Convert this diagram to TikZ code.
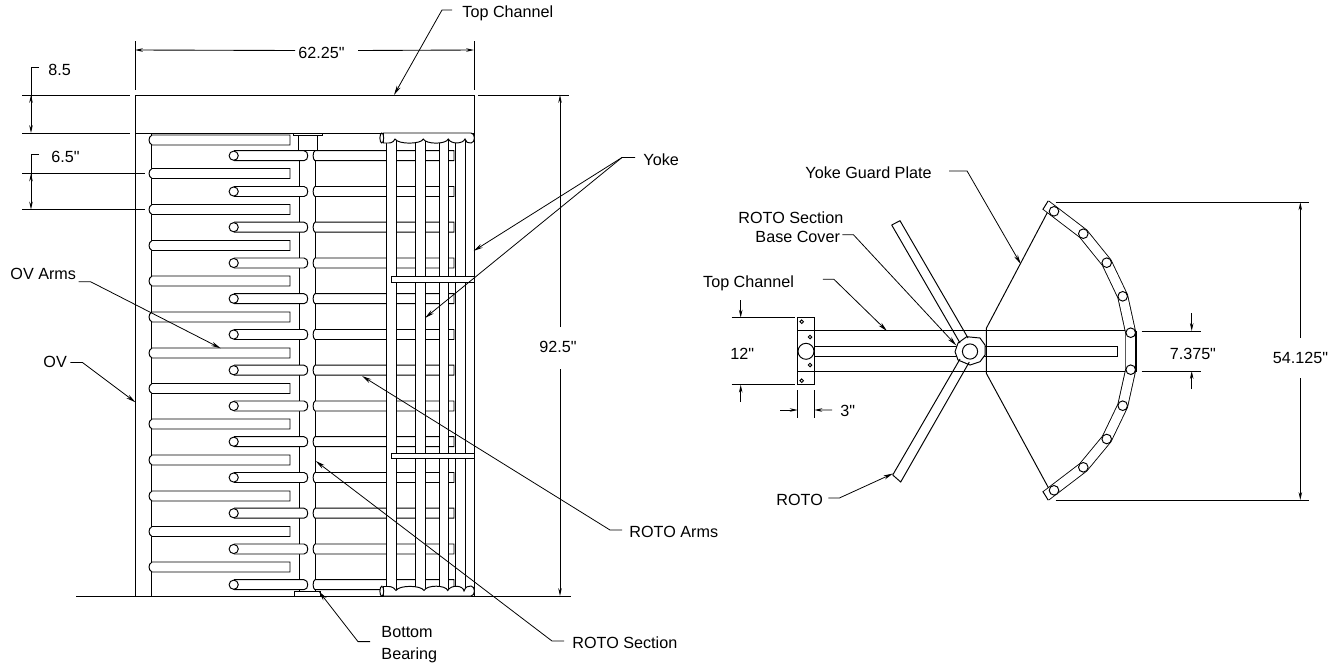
\documentclass[tikz,border=0pt]{standalone}
\usepackage{fontspec}
\newfontfamily\drawingfont{Liberation Sans}
\usetikzlibrary{
    arrows.meta,
    calc
}

\begin{document}
\begin{tikzpicture}[
        x=0.02cm, y=-0.02cm, line width=0.55pt,
        callout/.style={inner sep=0pt, anchor=west, text height=9pt, text depth=0pt, font=\drawingfont\fontsize{9.2}{11}\selectfont},
        leader/.style={-{Stealth[length=5.5pt,width=2.4pt]}, line width=0.45pt},
        dimarrow/.style={-{Stealth[length=4.5pt,width=2pt]}, line width=0.5pt},
        extline/.style={line width=0.5pt},
        part/.style={draw, fill=white}
    ]
        \useasboundingbox (0,0) rectangle (1344,663);

        % Elevation frame
        \draw[part] (135,95) rectangle (474,133);
        \draw (135,133) -- (135,596);
        \draw (474,133) -- (474,596);
        \draw (151,133) -- (151,596);
        \draw (299,150) -- (299,591);
        \draw (315,150) -- (315,591);

        % Extension lines
        \draw[extline] (22,95) -- (130,95);
        \draw[extline] (478,95) -- (569,95);
        \draw[extline] (22,133) -- (130,133);
        \draw[extline] (22,173.5) -- (145,173.5);
        \draw[extline] (22,209.5) -- (145,209.5);
        \draw[extline] (135,41) -- (135,90);
        \draw[extline] (474,41) -- (474,90);
        \draw (76,596) -- (571,596);

        % OV arms
        \foreach \ya in {135,168.5,204.5,240.5,276,312,348,383.5,419,455,491,526.5,562} {
            \draw[part] (152,\ya) .. controls (148,\ya+2) and (148,\ya+8) .. (152,\ya+10) -- (290,\ya+10) -- (290,\ya) -- cycle;
        }

        % ROTO arms
        \foreach \yc in {155.7,191.5,227.2,263,298.7,334.5,370.2,406,441.7,477.5,513.2,549,584.7} {
            \draw[part] (234,\yc-5) -- (304,\yc-5) .. controls (309,\yc-5) and (309,\yc+5) .. (304,\yc+5) -- (234,\yc+5);
            \draw[part] (233.7,\yc) circle (4.6);
            \draw[part] (315,\yc-5) .. controls (312.5,\yc-4) and (312.5,\yc+4) .. (315,\yc+5) -- (454,\yc+5) -- (454,\yc-5) -- cycle;
        }

        % Yoke
        \draw[part] (386.7,139) rectangle (396.7,591);
        \draw[part] (415.7,139) rectangle (425.3,591);
        \draw[part] (439,139) rectangle (448.7,591);
        \draw[part] (455,139) rectangle (465,591);
        \draw[part] (383.5,133) -- (471,133) .. controls (475.5,133) and (475.5,143) .. (471,143)
            .. controls (468,143.5) and (465.5,142) .. (465,139)
            .. controls (463,144) and (451,144.5) .. (448.3,139)
            .. controls (446,144.5) and (426,144.5) .. (423.3,139)
            .. controls (421,144.5) and (398,144.5) .. (395,139)
            .. controls (393,143.5) and (389,143) .. (387,143) -- (383.5,143) -- cycle;
        \draw[part] (381.8,138) ellipse [x radius=1.9, y radius=5];
        \draw[part] (383.5,596) -- (471,596) .. controls (475.5,596) and (475.5,586) .. (471,586)
            .. controls (468,585.5) and (465.5,587) .. (464,591)
            .. controls (463,585) and (451,584.5) .. (447.7,590.5)
            .. controls (446,585) and (427,584.5) .. (424,590.5)
            .. controls (421,585) and (399,585) .. (396,590.5)
            .. controls (393,586) and (389,586.5) .. (387,586.5) -- (383.5,586.5) -- cycle;
        \draw[part] (381.8,591.2) ellipse [x radius=1.9, y radius=5];
        \draw[part] (391.7,276.7) rectangle (474,282);
        \draw[part] (391.7,453.2) rectangle (474,458.2);

        % Bearings
        \draw[part] (298,135) rectangle (317,150);
        \draw[part] (293,133) rectangle (322.7,135);
        \draw[part] (294,591) rectangle (320,596);

        % Elevation dimensions
        \node[callout] (eightfive) at (48,67.5) {8.5};
        \node[callout] (sixfive) at (51,154.5) {6.5"};
        \node[callout] (widthdim) at (298,50.5) {62.25"};
        \node[callout, anchor=center] (heightdim) at (558,344.6) {92.5"};
        \coordinate (eighttop) at (31,95);
        \coordinate (eightbot) at (31,133);
        \coordinate (sixtop) at (31,173.5);
        \coordinate (sixbot) at (31,209.5);
        \coordinate (eightmid) at (31,114);
        \coordinate (sixmid) at (31,191.5);
        \coordinate (widthl) at (135,50);
        \coordinate (widthr) at (474,50);
        \coordinate (heightt) at (560,95);
        \coordinate (heightb) at (560,596);
        \draw[extline] ([shift={(-9,0)}]eightfive.west) -| (eightmid);
        \draw[dimarrow] (eightmid) -- (eighttop);
        \draw[dimarrow] (eightmid) -- (eightbot);
        \draw[extline] ([shift={(-12,0)}]sixfive.west) -| (sixmid);
        \draw[dimarrow] (sixmid) -- (sixtop);
        \draw[dimarrow] (sixmid) -- (sixbot);
        \draw[dimarrow] ([shift={(-3,0)}]widthdim.west) -- (widthl);
        \draw[dimarrow] ([shift={(13,0)}]widthdim.east) -- (widthr);
        \draw[dimarrow] ([shift={(2,-9)}]heightdim.north) -- (heightt);
        \draw[dimarrow] ([shift={(2,16.5)}]heightdim.south) -- (heightb);

        % Elevation callouts
        \node[callout] (topchannel) at (462,10) {Top Channel};
        \node[callout] (yoke) at (643,157.5) {Yoke};
        \node[callout] (rotoarms) at (629,530) {ROTO Arms};
        \node[callout] (rotosection) at (572,641) {ROTO Section};
        \node[callout, text height=, text depth=, font=\drawingfont\fontsize{9.2}{12.2}\selectfont, align=left] (bearing) at (381,644.4) {Bottom\\Bearing};
        \node[callout] (ovarms) at (10,271.4) {OV Arms};
        \node[callout] (ov) at (43,359.4) {OV};
        \coordinate (topchanneltip) at (394,95);
        \coordinate (yoketipa) at (473.5,251);
        \coordinate (yoketipb) at (425,318);
        \coordinate (rotoarmstip) at (362,376);
        \coordinate (rotosectiontip) at (315.7,461);
        \coordinate (bearingtip) at (319,591.5);
        \coordinate (ovarmstip) at (220.7,348.3);
        \coordinate (ovtip) at (135.5,402.3);
        \draw[leader] ([shift={(-10,0)}]topchannel.west) -- ++(-10,0) -- (topchanneltip);
        \draw[leader] ([shift={(-8,0)}]yoke.west) -- ++(-13,0) coordinate (yokeelbow) -- (yoketipa);
        \draw[leader] (yokeelbow) -- (yoketipb);
        \draw[leader] ([shift={(-7,0)}]rotoarms.west) -- ++(-12,0) -- (rotoarmstip);
        \draw[leader] ([shift={(-8,0)}]rotosection.west) -- ++(-12,0) -- (rotosectiontip);
        \draw[leader] ([shift={(-11,-2.8)}]bearing.west) -- ++(-12,0) -- (bearingtip);
        \draw[leader] ([shift={(2,10.3)}]ovarms.east) -- ++(12,0) -- (ovarmstip);
        \draw[leader] ([shift={(3,3)}]ov.east) -- ++(12,0) -- (ovtip);

        % Plan view
        \draw (797.3,330.7) rectangle (1135,371.3);
        \draw[part] (814.3,346.3) rectangle (1117.7,356.3);
        \draw[part] (797.3,317.7) rectangle (814.7,384.7);
        \draw (797.3,330.7) -- (814.7,330.7) (797.3,371.3) -- (814.7,371.3);
        \draw[part] (806,351.3) circle (8);
        \draw (801.7,321.7) circle (1.8);
        \draw (810,337) circle (1.8);
        \draw (810,365) circle (1.8);
        \draw (801.7,380.7) circle (1.8);
        \draw (1126,331) -- (1126,371);

        % Hub and ROTO plan arms
        \draw[part] (955,351.7) -- (958,343) -- (966.7,336.7) -- (980,338) -- (985,345) -- (985,355) -- (980,361.7) -- (970,365) -- (958,360) -- cycle;
        \draw (891.7,225) -- (900,220.7) -- (968,338);
        \draw (891.7,225) -- (960,343);
        \draw (892.7,475) -- (900.7,482) -- (969.3,362);
        \draw (892.7,475) -- (960,359);
        \draw[part] (970,351.5) circle (7.6);

        % Guard plate
        \draw (1048.7,210) -- (986.3,328.3) -- (986.3,373.3) -- (1048.7,488.3);

        % Yoke plan
        \draw[double=white, double distance=5.2pt, line width=0.5pt, line join=miter] (1045.7,205) -- (1083.3,233.7) -- (1106.7,262.7) -- (1122.7,296.3) -- (1130.7,332.7) -- (1130.7,369.7) -- (1122.7,405.7) -- (1106.7,439) -- (1083.3,467.3) -- (1045.7,496);
        \draw (1043,209.3) -- (1048.2,200.8);
        \draw (1043,491.6) -- (1048.2,500.2);
        \foreach \cx/\cy in {1054/211.3,1083.3/233.7,1106.7/262.7,1122.7/296.3,1130.7/332.7,1130.7/369.7,1122.7/405.7,1106.7/439,1083.3/467.3,1054/490.3} {
            \draw[part] (\cx,\cy) circle (4.8);
        }
        \draw[line width=1.2pt] (1135.7,330.5) -- (1135.7,372);

        % Plan dimensions
        \node[callout] (twelve) at (730,352) {12"};
        \node[callout] (three) at (840,408.7) {3"};
        \node[callout] (yokewidth) at (1169.3,352) {7.375"};
        \node[callout, anchor=center] (spandim) at (1300.5,355.9) {54.125"};
        \coordinate (twelvet) at (740.7,317.7);
        \coordinate (twelveb) at (740.7,384.7);
        \coordinate (twelvetailt) at (740.7,300);
        \coordinate (twelvetailb) at (740.7,402);
        \coordinate (threel) at (797.7,410);
        \coordinate (threer) at (814.3,410);
        \coordinate (threetaill) at (780,410);
        \coordinate (yokewidtht) at (1191.7,331);
        \coordinate (yokewidthb) at (1191.7,371);
        \coordinate (yokewidthtailt) at (1191.7,313);
        \coordinate (yokewidthtailb) at (1191.7,389);
        \coordinate (spant) at (1300.3,202.3);
        \coordinate (spanb) at (1300.3,500);
        \draw[extline] (731.7,317.7) -- (795,317.7);
        \draw[extline] (731.7,384.7) -- (795,384.7);
        \draw[extline] (797.7,390) -- (797.7,418);
        \draw[extline] (814.3,390) -- (814.3,418);
        \draw[extline] (1141.7,331) -- (1200.7,331);
        \draw[extline] (1141.7,371) -- (1200.7,371);
        \draw[extline] (1055.7,202.3) -- (1309,202.3);
        \draw[extline] (1055.7,500) -- (1309,500);
        \draw[dimarrow] (twelvetailt) -- (twelvet);
        \draw[dimarrow] (twelvetailb) -- (twelveb);
        \draw[dimarrow] (threetaill) -- (threel);
        \draw[dimarrow] ([shift={(-8,1.3)}]three.west) -- (threer);
        \draw[dimarrow] (yokewidthtailt) -- (yokewidtht);
        \draw[dimarrow] (yokewidthtailb) -- (yokewidthb);
        \draw[dimarrow] ([shift={(-0.2,-10)}]spandim.north) -- (spant);
        \draw[dimarrow] ([shift={(-0.2,14)}]spandim.south) -- (spanb);

        % Plan callouts
        \node[callout] (guardplate) at (805,171) {Yoke Guard Plate};
        \node[callout] (basecovera) at (738,216) {ROTO Section};
        \node[callout] (basecover) at (755,234.7) {Base Cover};
        \node[callout] (planchannel) at (702.7,279.3) {Top Channel};
        \node[callout] (planroto) at (776,498) {ROTO};
        \coordinate (guardplatetip) at (1020.7,264);
        \coordinate (basecovertip) at (956.3,345.5);
        \coordinate (planchanneltip) at (887,331);
        \coordinate (planrototip) at (893,473.5);
        \draw[leader] ([shift={(17,0)}]guardplate.east) -- ++(18,0) -- (guardplatetip);
        \draw[leader] ([shift={(2,0)}]basecover.east) -- ++(11,0) -- (basecovertip);
        \draw[leader] ([shift={(28.5,0)}]planchannel.east) -- ++(11,0) -- (planchanneltip);
        \draw[leader] ([shift={(5,0)}]planroto.east) -- ++(11,0) -- (planrototip);
    \end{tikzpicture}
\end{document}
